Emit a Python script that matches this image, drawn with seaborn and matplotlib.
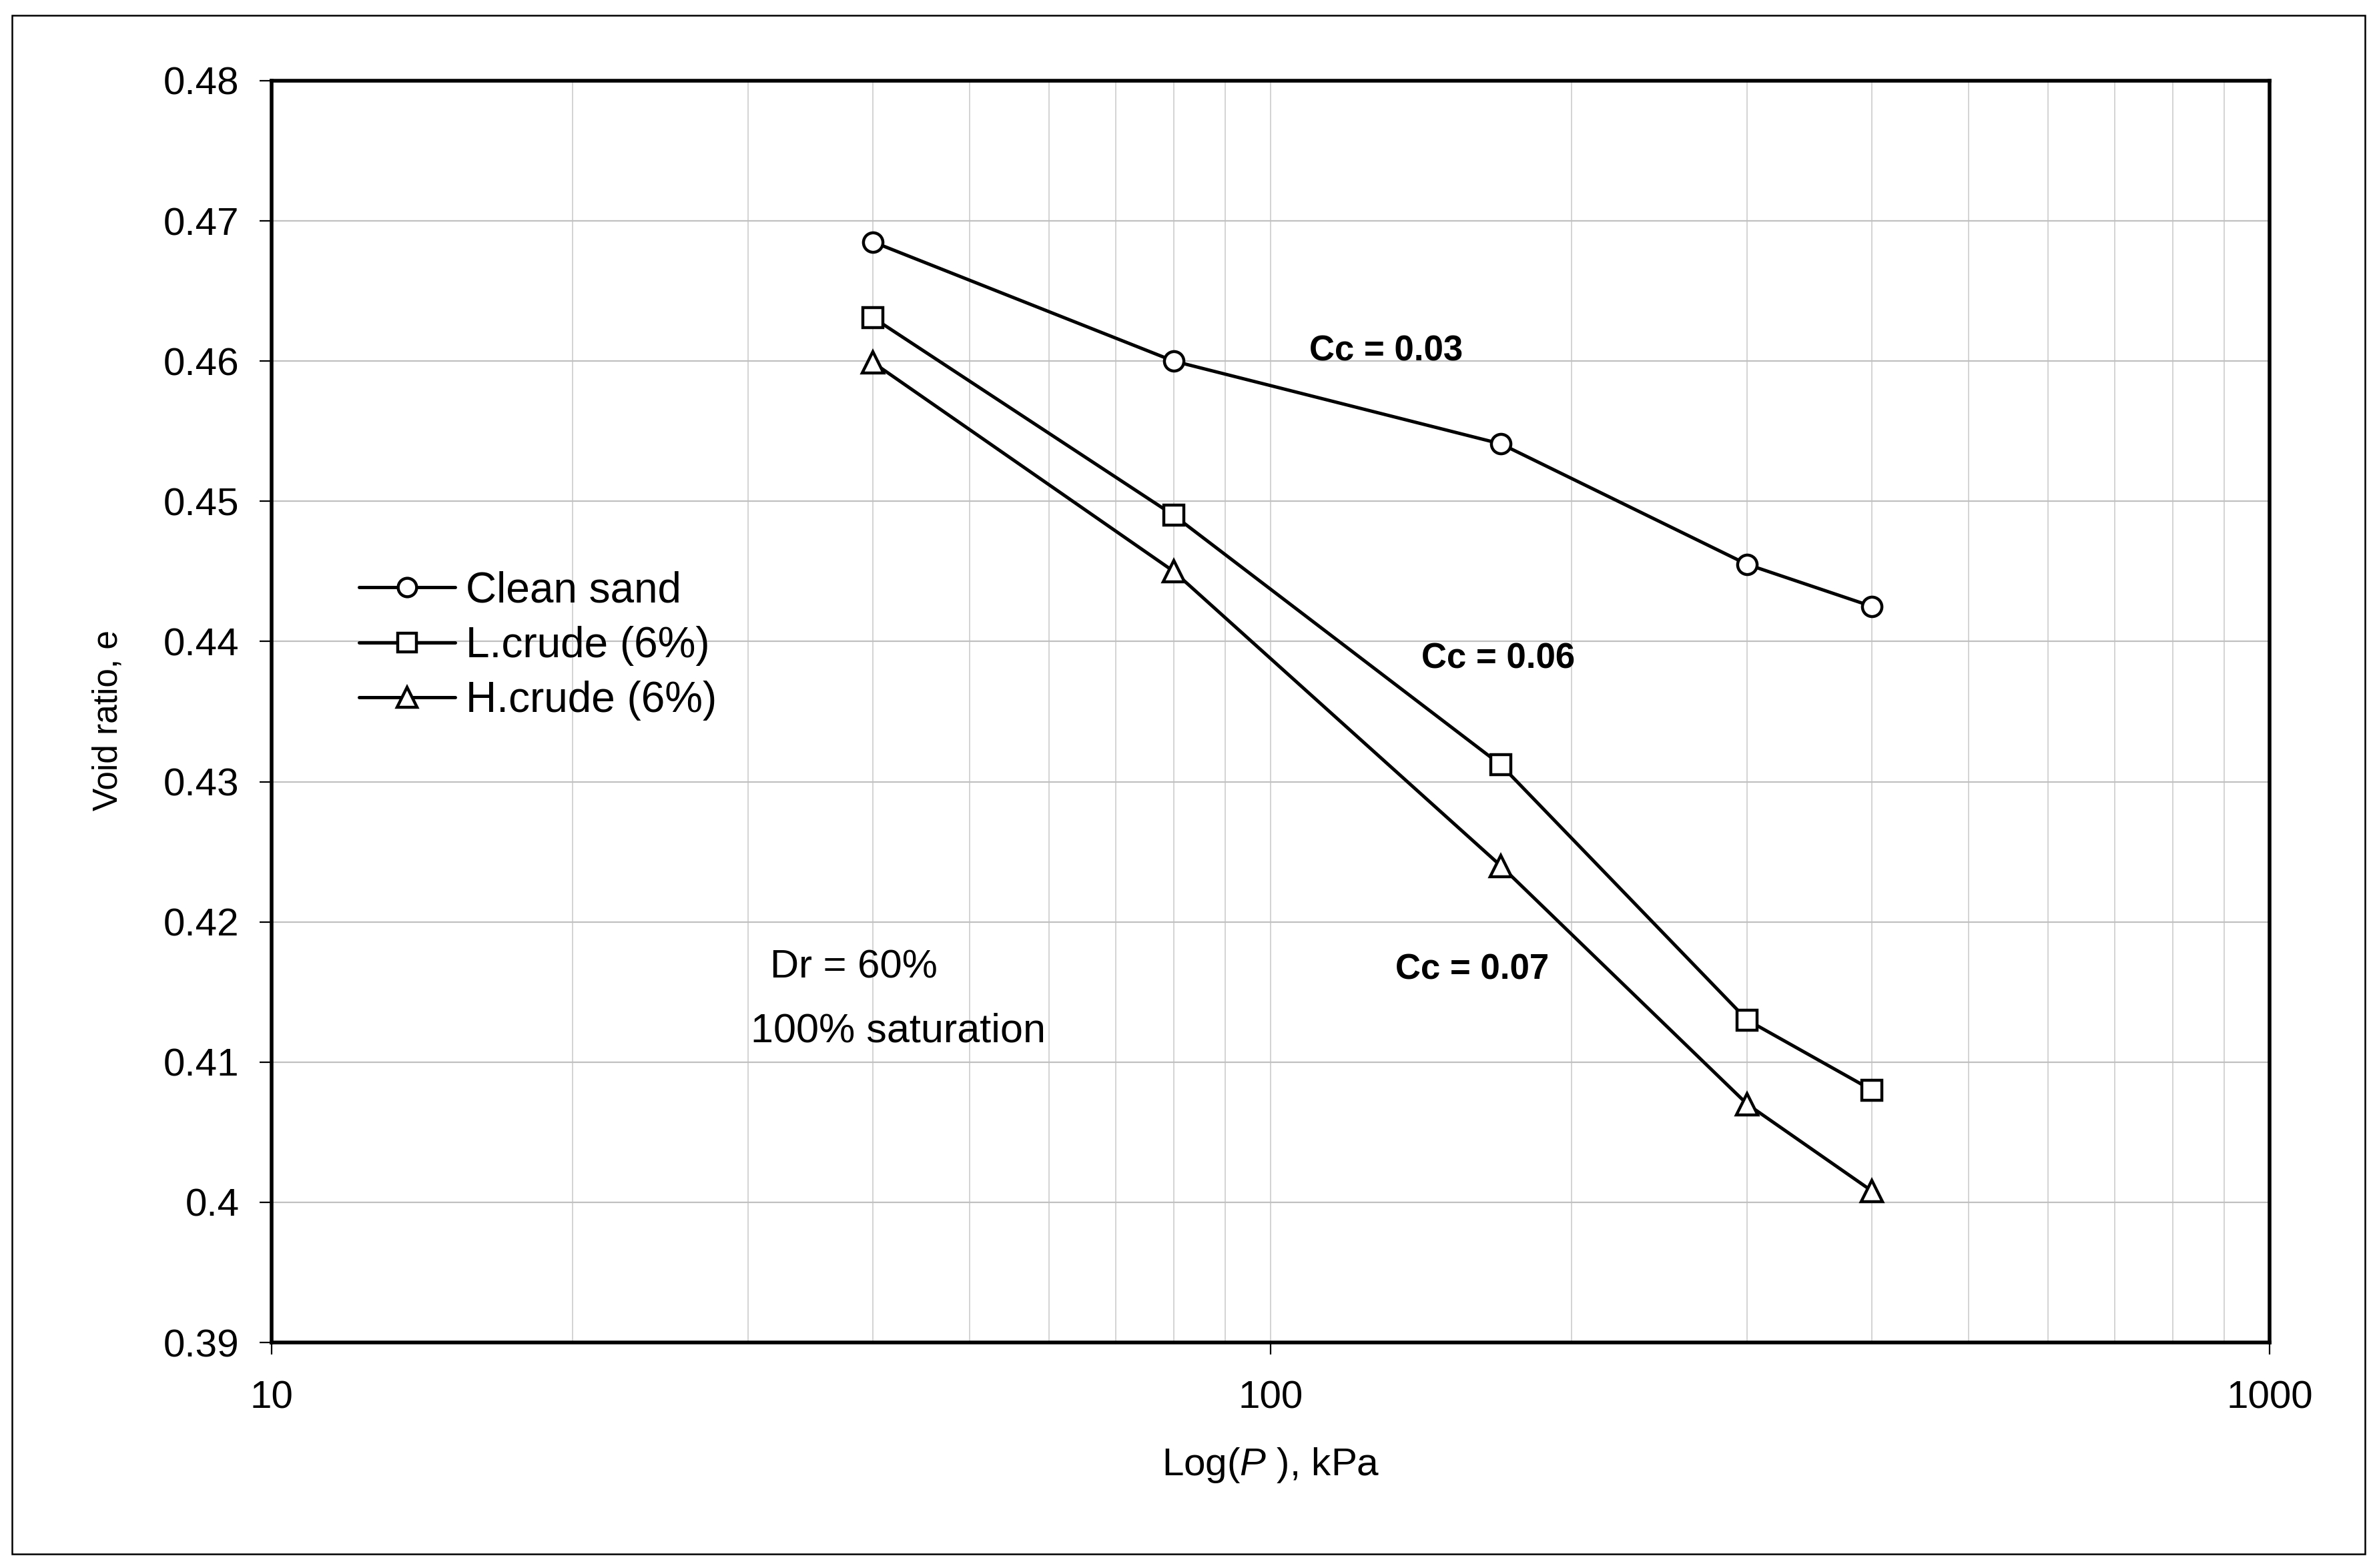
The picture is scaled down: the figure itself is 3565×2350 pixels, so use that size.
import matplotlib
matplotlib.use("Agg")
import matplotlib.pyplot as plt
import seaborn as sns
import pandas as pd
from matplotlib.patches import Rectangle
from matplotlib.ticker import FixedLocator, FixedFormatter, LogLocator, NullFormatter

# ---------------- data ----------------
pressure_kpa = [40, 80, 170, 300, 400]
clean_sand = [0.4685, 0.4600, 0.4541, 0.4455, 0.4425]
l_crude = [0.4631, 0.4490, 0.4312, 0.4130, 0.4080]
h_crude = [0.4599, 0.4450, 0.4240, 0.4070, 0.4008]
series_names = ["Clean sand", "L.crude (6%)", "H.crude (6%)"]
series_markers = ["o", "s", "^"]

x_tick_values = [10, 100, 1000]
x_tick_labels = ["10", "100", "1000"]
y_tick_values = [0.39, 0.40, 0.41, 0.42, 0.43, 0.44, 0.45, 0.46, 0.47, 0.48]
y_tick_labels = ["0.39", "0.4", "0.41", "0.42", "0.43", "0.44", "0.45", "0.46", "0.47", "0.48"]

cc_labels = ["Cc = 0.03", "Cc = 0.06", "Cc = 0.07"]
note_labels = ["Dr = 60%", "100% saturation"]

# ---------------- style ----------------
sns.set_style("white")
plt.rcParams["font.family"] = ["Liberation Sans", "DejaVu Sans"]
plt.rcParams["mathtext.fontset"] = "custom"
plt.rcParams["mathtext.rm"] = "Liberation Sans"
plt.rcParams["mathtext.it"] = "Liberation Sans:italic"
for k in ["text.color", "axes.labelcolor", "xtick.color", "ytick.color", "axes.edgecolor"]:
    plt.rcParams[k] = "black"

W, H = 3565, 2350
fig = plt.figure(figsize=(W / 200, H / 200), dpi=200)
fig.patch.set_facecolor("white")

ax_l, ax_r, ax_t, ax_b = 407, 3401, 121, 2012
ax = fig.add_axes([ax_l / W, 1 - ax_b / H, (ax_r - ax_l) / W, (ax_b - ax_t) / H])
ax.set_xscale("log")

df = pd.DataFrame({
    "P": pressure_kpa * 3,
    "e": clean_sand + l_crude + h_crude,
    "series": [n for n in series_names for _ in pressure_kpa],
})

for name, mk in zip(series_names, series_markers):
    sub = df[df["series"] == name]
    sns.lineplot(data=sub, x="P", y="e", ax=ax, color="black", lw=1.8,
                 marker=mk, ms=10.5 if mk != "^" else 11.5, mfc="white", mec="black", mew=1.6,
                 label=name, estimator=None, sort=False, legend=False)

ax.set_xlim(10, 1000)
ax.set_ylim(0.39, 0.48)

# grid
ax.xaxis.set_major_locator(FixedLocator(x_tick_values))
ax.xaxis.set_major_formatter(FixedFormatter(x_tick_labels))
ax.xaxis.set_minor_locator(LogLocator(base=10, subs=[2, 3, 4, 5, 6, 7, 8, 9]))
ax.xaxis.set_minor_formatter(NullFormatter())
ax.yaxis.set_major_locator(FixedLocator(y_tick_values))
ax.yaxis.set_major_formatter(FixedFormatter(y_tick_labels))

ax.grid(False)
ax.grid(which="major", axis="y", color="#c0c0c0", lw=0.8, zorder=0)
ax.grid(which="major", axis="x", color="#c8c8c8", lw=0.55, zorder=0)
ax.grid(which="minor", axis="x", color="#c8c8c8", lw=0.55, zorder=0)
ax.set_axisbelow(True)

for sp in ax.spines.values():
    sp.set_visible(True)
    sp.set_color("black")
    sp.set_linewidth(2.0)

ax.tick_params(axis="y", which="major", direction="out", length=6.5, width=0.8,
               color="black", labelcolor="black", labelsize=21, pad=11, left=True)
ax.tick_params(axis="x", which="major", direction="out", length=6.5, width=0.8,
               color="black", labelcolor="black", labelsize=21, pad=14, bottom=True)
ax.tick_params(axis="x", which="minor", length=0)

ax.set_xlabel("Log($P$ ), kPa", fontsize=21, color="black")
ax.xaxis.set_label_coords(0.5, (ax_b - 2196) / (ax_b - ax_t))
ax.xaxis.label.set_verticalalignment("center")
ax.set_ylabel("Void ratio, e", fontsize=18.5, color="black")
ax.yaxis.set_label_coords((162 - ax_l) / (ax_r - ax_l), 0.493)
ax.yaxis.label.set_verticalalignment("center")

# annotations
ax.text(0.5194, 0.7853, cc_labels[0], transform=ax.transAxes, fontsize=19,
        fontweight="bold", ha="left", va="center", color="black")
ax.text(0.5755, 0.542, cc_labels[1], transform=ax.transAxes, fontsize=19,
        fontweight="bold", ha="left", va="center", color="black")
ax.text(0.5625, 0.2956, cc_labels[2], transform=ax.transAxes, fontsize=19,
        fontweight="bold", ha="left", va="center", color="black")
ax.text(0.2495, 0.2972, note_labels[0], transform=ax.transAxes, fontsize=21.5,
        ha="left", va="center", color="black")
ax.text(0.2398, 0.2464, note_labels[1], transform=ax.transAxes, fontsize=22,
        ha="left", va="center", color="black")

# legend
handles, labels = ax.get_legend_handles_labels()
leg = ax.legend(handles, labels, loc="center left",
                bbox_to_anchor=(538 / W, 1 - 968 / H), bbox_transform=fig.transFigure,
                frameon=False, fontsize=23, handlelength=2.25, handletextpad=0.25,
                labelspacing=0.35, borderpad=0, borderaxespad=0, markerscale=0.95)
for t in leg.get_texts():
    t.set_color("black")

# outer frame
fig.patches.append(Rectangle((18 / W, 1 - 2329 / H), (3544 - 18) / W, (2329 - 23) / H,
                             transform=fig.transFigure, fill=False, ec="black", lw=0.9))

fig.savefig("out.png", dpi=200, facecolor="white")
